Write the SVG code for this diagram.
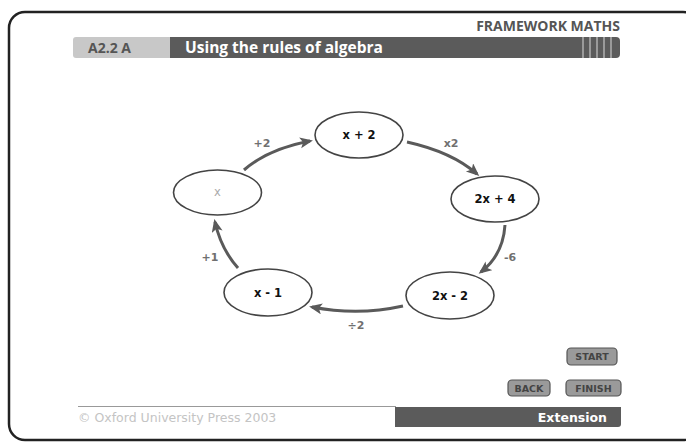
<svg xmlns="http://www.w3.org/2000/svg" width="686" height="445" viewBox="0 0 686 445">
<defs>
<style>
.node ellipse{fill:#fff;stroke:#444;stroke-width:1.6}
.node text{font-family:"DejaVu Sans",Verdana,sans-serif;font-weight:bold;font-size:11.5px;fill:#111;text-anchor:middle}
.conn path{fill:none;stroke:#5a5a5a;stroke-width:3;marker-end:url(#ah)}
.lbl{font-family:"DejaVu Sans",Verdana,sans-serif;font-weight:bold;font-size:11px;fill:#707070;text-anchor:middle}
.btn rect{fill:#9a9a9a;stroke:#555;stroke-width:1.2}
.btn text{font-family:"DejaVu Sans",Verdana,sans-serif;font-weight:bold;font-size:9.5px;fill:#444;text-anchor:middle}
</style>
<marker id="ah" markerUnits="userSpaceOnUse" markerWidth="14" markerHeight="12" refX="10" refY="5.5" orient="auto">
<path d="M0,0 L13,5.5 L0,11 L3,5.5 z" fill="#5a5a5a"/>
</marker>
</defs>
<rect x="0" y="0" width="686" height="445" fill="#fff"/>
<rect x="9" y="12" width="690" height="428" rx="16" ry="16" fill="none" stroke="#222" stroke-width="2.5"/>
<text x="620" y="31" text-anchor="end" font-family="'Open Sans','Liberation Sans',sans-serif" font-weight="bold" font-size="14" fill="#555">FRAMEWORK MATHS</text>
<g id="titlebar">
<rect x="73" y="37" width="110" height="21" rx="3" fill="#c8c8c8"/>
<path d="M170,37 H616 Q620,37 620,41 V54 Q620,58 616,58 H170 Z" fill="#5b5b5b"/>
<g stroke="#bdbdbd" stroke-width="1.3">
<line x1="583" y1="37" x2="583" y2="58"/><line x1="590" y1="37" x2="590" y2="58"/><line x1="597" y1="37" x2="597" y2="58"/><line x1="604" y1="37" x2="604" y2="58"/><line x1="611" y1="37" x2="611" y2="58"/>
</g>
<text x="88" y="52.5" font-family="'Open Sans','Liberation Sans',sans-serif" font-weight="bold" font-size="14" fill="#555">A2.2 A</text>
<text x="185" y="52.5" font-family="'Open Sans','Liberation Sans',sans-serif" font-weight="bold" font-size="15.5" fill="#fff">Using the rules of algebra</text>
</g>
<g id="connectors" class="conn">
<path d="M244,170 Q268,149 310,141"/>
<path d="M407,142 Q452,152 477,174"/>
<path d="M505,225 Q503,255 481,272"/>
<path d="M403,306 Q358,316 312,307"/>
<path d="M238,268 Q221,249 215,222"/>
</g>
<g id="labels">
<text class="lbl" x="262" y="147">+2</text>
<text class="lbl" x="451" y="147" fill="#888">x2</text>
<text class="lbl" x="510" y="261">-6</text>
<text class="lbl" x="356" y="329">÷2</text>
<text class="lbl" x="210" y="261">+1</text>
</g>
<g id="n_x" class="node"><ellipse cx="217.5" cy="192.5" rx="44" ry="22.5"/><text x="217.5" y="196" style="fill:#aaa;font-weight:normal">x</text></g>
<g id="n_x2" class="node"><ellipse cx="359" cy="135" rx="44" ry="23"/><text x="359" y="139">x + 2</text></g>
<g id="n_2x4" class="node"><ellipse cx="495" cy="199" rx="44" ry="23"/><text x="495" y="203">2x + 4</text></g>
<g id="n_2xm2" class="node"><ellipse cx="450" cy="295.5" rx="44" ry="23.5"/><text x="450" y="299.5">2x - 2</text></g>
<g id="n_xm1" class="node"><ellipse cx="268" cy="292.5" rx="44" ry="23.5"/><text x="268" y="296.5">x - 1</text></g>
<g id="b_start" class="btn"><rect x="567" y="348" width="50" height="17" rx="4"/><text x="592" y="360">START</text></g>
<g id="b_back" class="btn"><rect x="508" y="380" width="42" height="16" rx="4"/><text x="529" y="391.5">BACK</text></g>
<g id="b_finish" class="btn"><rect x="566" y="380" width="55" height="16" rx="4"/><text x="593.5" y="391.5">FINISH</text></g>
<line x1="78" y1="406.5" x2="396" y2="406.5" stroke="#999" stroke-width="1"/>
<text x="78" y="422" font-family="'DejaVu Sans',Verdana,sans-serif" font-size="12.5" fill="#c4c4c4">© Oxford University Press 2003</text>
<g id="extension">
<path d="M395,407 H621 V424 Q621,427 618,427 H395 Z" fill="#5b5b5b"/>
<text x="607" y="422" text-anchor="end" font-family="'DejaVu Sans',Verdana,sans-serif" font-weight="bold" font-size="12.5" fill="#fff">Extension</text>
</g>
</svg>
